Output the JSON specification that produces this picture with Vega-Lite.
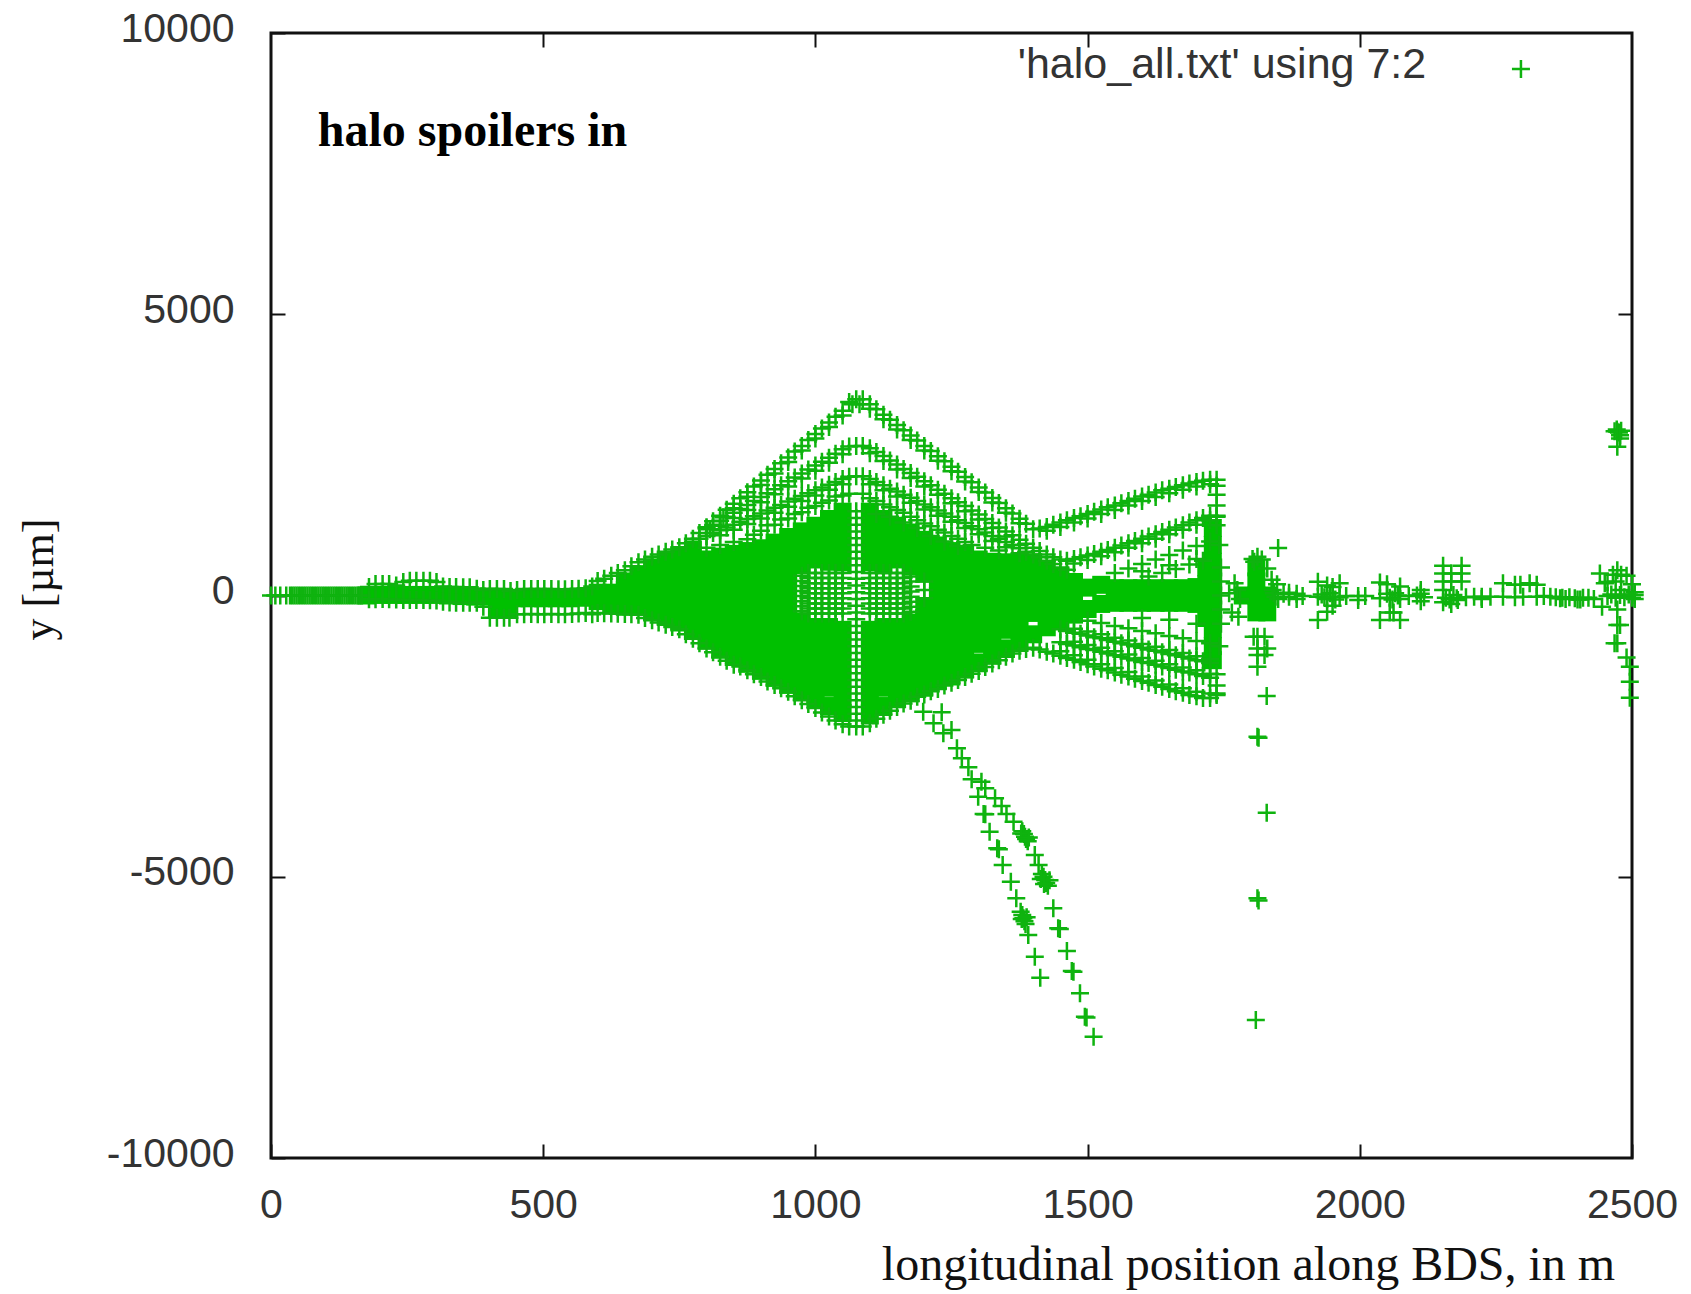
{"$schema":"https://vega.github.io/schema/vega-lite/v6.json","autosize":{"type":"none"},"padding":{"left":271,"top":33,"right":59,"bottom":136},"width":1361,"height":1125,"background":"white","view":{"stroke":"#111","strokeWidth":3,"fill":"white"},
"datasets":{
"labels":[{"s":86,"y":8247,"t":"halo spoilers in"}],
"key":[{"s":2122,"y":9431,"t":"'halo_all.txt' using 7:2"}],
"keypt":[{"s":2296,"y":9360}],
"core":[
{"s":600,"y":50},{"s":600,"y":-100},{"s":625,"y":50},{"s":625,"y":-150},{"s":650,"y":250},{"s":650,"y":100},{"s":650,"y":-200},{"s":675,"y":380},{"s":675,"y":200},{"s":675,"y":-100},{"s":675,"y":-200},{"s":700,"y":500},{"s":700,"y":300},{"s":700,"y":0},{"s":700,"y":-280},{"s":725,"y":600},{"s":725,"y":400},{"s":725,"y":100},{"s":725,"y":-200},{"s":725,"y":-360},{"s":750,"y":700},{"s":750,"y":500},{"s":750,"y":200},{"s":750,"y":-100},{"s":750,"y":-400},{"s":750,"y":-480},{"s":775,"y":820},{"s":775,"y":600},{"s":775,"y":300},{"s":775,"y":0},{"s":775,"y":-300},{"s":775,"y":-600},
{"s":800,"y":640},{"s":800,"y":340},{"s":800,"y":40},{"s":800,"y":-260},{"s":800,"y":-560},{"s":800,"y":-800},
{"s":825,"y":690},{"s":825,"y":390},{"s":825,"y":90},{"s":825,"y":-210},{"s":825,"y":-510},{"s":825,"y":-810},{"s":825,"y":-965},
{"s":850,"y":740},{"s":850,"y":440},{"s":850,"y":140},{"s":850,"y":-160},{"s":850,"y":-460},{"s":850,"y":-760},{"s":850,"y":-1060},
{"s":875,"y":790},{"s":875,"y":490},{"s":875,"y":190},{"s":875,"y":-110},{"s":875,"y":-410},{"s":875,"y":-710},{"s":875,"y":-1010},{"s":875,"y":-1215},
{"s":900,"y":840},{"s":900,"y":540},{"s":900,"y":240},{"s":900,"y":-60},{"s":900,"y":-360},{"s":900,"y":-660},{"s":900,"y":-960},{"s":900,"y":-1260},{"s":900,"y":-1340},
{"s":925,"y":940},{"s":925,"y":640},{"s":925,"y":340},{"s":925,"y":40},{"s":925,"y":-260},{"s":925,"y":-560},{"s":925,"y":-860},{"s":925,"y":-1160},{"s":925,"y":-1465},
{"s":950,"y":1040},{"s":950,"y":740},{"s":950,"y":440},{"s":950,"y":140},{"s":950,"y":-160},{"s":950,"y":-460},{"s":950,"y":-760},{"s":950,"y":-1060},{"s":950,"y":-1360},{"s":950,"y":-1590},
{"s":975,"y":1140},{"s":975,"y":840},{"s":975,"y":540},{"s":975,"y":-460},{"s":975,"y":-660},{"s":975,"y":-960},{"s":975,"y":-1260},{"s":975,"y":-1560},{"s":975,"y":-1715},
{"s":1000,"y":1240},{"s":1000,"y":940},{"s":1000,"y":640},{"s":1000,"y":-560},{"s":1000,"y":-860},{"s":1000,"y":-1160},{"s":1000,"y":-1460},{"s":1000,"y":-1760},{"s":1000,"y":-1840},
{"s":1025,"y":1360},{"s":1025,"y":1060},{"s":1025,"y":760},{"s":1025,"y":600},{"s":1025,"y":-560},{"s":1025,"y":-740},{"s":1025,"y":-1040},{"s":1025,"y":-1340},{"s":1025,"y":-1640},{"s":1025,"y":-1965},
{"s":1050,"y":1490},{"s":1050,"y":1190},{"s":1050,"y":890},{"s":1050,"y":590},{"s":1050,"y":-610},{"s":1050,"y":-910},{"s":1050,"y":-1210},{"s":1050,"y":-1510},{"s":1050,"y":-1810},{"s":1050,"y":-2090},
{"s":1100,"y":1490},{"s":1100,"y":1190},{"s":1100,"y":890},{"s":1100,"y":590},{"s":1100,"y":-610},{"s":1100,"y":-910},{"s":1100,"y":-1210},{"s":1100,"y":-1510},{"s":1100,"y":-1810},{"s":1100,"y":-2090},
{"s":1125,"y":1360},{"s":1125,"y":1060},{"s":1125,"y":760},{"s":1125,"y":560},{"s":1125,"y":-560},{"s":1125,"y":-740},{"s":1125,"y":-1040},{"s":1125,"y":-1340},{"s":1125,"y":-1640},{"s":1125,"y":-1965},
{"s":1150,"y":1240},{"s":1150,"y":940},{"s":1150,"y":640},{"s":1150,"y":-560},{"s":1150,"y":-860},{"s":1150,"y":-1160},{"s":1150,"y":-1460},{"s":1150,"y":-1760},{"s":1150,"y":-1840},
{"s":1175,"y":1120},{"s":1175,"y":820},{"s":1175,"y":520},{"s":1175,"y":-480},{"s":1175,"y":-780},{"s":1175,"y":-1080},{"s":1175,"y":-1380},{"s":1175,"y":-1680},{"s":1175,"y":-1740},
{"s":1200,"y":990},{"s":1200,"y":690},{"s":1200,"y":390},{"s":1200,"y":-210},{"s":1200,"y":-400},{"s":1200,"y":-610},{"s":1200,"y":-910},{"s":1200,"y":-1210},{"s":1200,"y":-1510},{"s":1200,"y":-1640},
{"s":1225,"y":890},{"s":1225,"y":590},{"s":1225,"y":290},{"s":1225,"y":-10},{"s":1225,"y":-310},{"s":1225,"y":-610},{"s":1225,"y":-910},{"s":1225,"y":-1210},{"s":1225,"y":-1510},
{"s":1250,"y":790},{"s":1250,"y":490},{"s":1250,"y":190},{"s":1250,"y":-110},{"s":1250,"y":-410},{"s":1250,"y":-710},{"s":1250,"y":-1010},{"s":1250,"y":-1310},{"s":1250,"y":-1440},
{"s":1275,"y":720},{"s":1275,"y":420},{"s":1275,"y":120},{"s":1275,"y":-180},{"s":1275,"y":-480},{"s":1275,"y":-780},{"s":1275,"y":-1080},{"s":1275,"y":-1315},
{"s":1300,"y":640},{"s":1300,"y":340},{"s":1300,"y":40},{"s":1300,"y":-260},{"s":1300,"y":-560},{"s":1300,"y":-860},{"s":1300,"y":-1190},
{"s":1325,"y":600},{"s":1325,"y":300},{"s":1325,"y":0},{"s":1325,"y":-300},{"s":1325,"y":-600},{"s":1325,"y":-900},{"s":1325,"y":-1065},
{"s":1350,"y":590},{"s":1350,"y":290},{"s":1350,"y":-10},{"s":1350,"y":-310},{"s":1350,"y":-610},{"s":1350,"y":-940},
{"s":1375,"y":590},{"s":1375,"y":290},{"s":1375,"y":-10},{"s":1375,"y":-310},{"s":1375,"y":-610},{"s":1375,"y":-815},
{"s":1400,"y":590},{"s":1400,"y":290},{"s":1400,"y":-10},{"s":1400,"y":-310},{"s":1400,"y":-690},
{"s":1425,"y":470},{"s":1425,"y":170},{"s":1425,"y":-130},{"s":1425,"y":-430},{"s":1425,"y":-565},
{"s":1450,"y":340},{"s":1450,"y":40},{"s":1450,"y":-260},{"s":1450,"y":-440},
{"s":1475,"y":240},{"s":1475,"y":-50},{"s":1475,"y":-340},{"s":1500,"y":140},{"s":1500,"y":-240},{"s":1525,"y":190},{"s":1525,"y":-150},{"s":1550,"y":130},{"s":1550,"y":-130},{"s":1575,"y":130},{"s":1575,"y":-130},{"s":1600,"y":130},{"s":1600,"y":-130},{"s":1625,"y":130},{"s":1625,"y":-130},{"s":1650,"y":130},{"s":1650,"y":-130},{"s":1675,"y":130},{"s":1675,"y":-130},{"s":1700,"y":150},{"s":1700,"y":-150},
{"s":1718,"y":500},{"s":1718,"y":200},{"s":1718,"y":-100},{"s":1718,"y":-400},
{"s":1730,"y":1200},{"s":1730,"y":900},{"s":1730,"y":600},{"s":1730,"y":300},{"s":1730,"y":0},{"s":1730,"y":-300},{"s":1730,"y":-600},{"s":1730,"y":-900},{"s":1730,"y":-1150},
{"s":175,"y":0},{"s":200,"y":10},{"s":225,"y":10},{"s":250,"y":10},{"s":275,"y":10},{"s":300,"y":10},{"s":325,"y":0},{"s":350,"y":-10},{"s":375,"y":-20},{"s":400,"y":-20},{"s":415,"y":-240},{"s":425,"y":-60},{"s":435,"y":-240},{"s":450,"y":-50},{"s":475,"y":-50},{"s":500,"y":-50},{"s":525,"y":-50},{"s":550,"y":-50},{"s":575,"y":-40},
{"s":1810,"y":500},{"s":1810,"y":250},{"s":1810,"y":0},{"s":1810,"y":-300},{"s":1830,"y":0},{"s":1830,"y":-300},{"s":1785,"y":0}
],
"pts":[
{"s":0,"y":0},{"s":8,"y":0},{"s":17,"y":0},{"s":28,"y":0},{"s":35,"y":0},{"s":39,"y":0},{"s":43,"y":0},{"s":47,"y":0},{"s":51,"y":0},{"s":55,"y":0},{"s":59,"y":0},{"s":63,"y":0},{"s":67,"y":0},{"s":71,"y":0},{"s":75,"y":0},{"s":79,"y":0},{"s":83,"y":0},{"s":87,"y":0},{"s":91,"y":0},{"s":95,"y":0},{"s":99,"y":0},{"s":103,"y":0},{"s":107,"y":0},{"s":111,"y":0},{"s":115,"y":0},{"s":119,"y":0},{"s":123,"y":0},{"s":127,"y":0},{"s":131,"y":0},{"s":135,"y":0},{"s":139,"y":0},{"s":143,"y":0},{"s":147,"y":0},{"s":151,"y":0},{"s":155,"y":0},{"s":159,"y":0},{"s":163,"y":0},{"s":167,"y":0},
{"s":180,"y":150},{"s":192,"y":205},{"s":205,"y":205},{"s":217,"y":205},{"s":230,"y":180},{"s":243,"y":240},{"s":255,"y":263},{"s":267,"y":263},{"s":280,"y":263},{"s":292,"y":263},{"s":304,"y":240},{"s":316,"y":160},{"s":328,"y":150},{"s":340,"y":150},{"s":353,"y":145},{"s":365,"y":145},{"s":378,"y":120},{"s":390,"y":100},{"s":402,"y":115},{"s":415,"y":115},{"s":428,"y":115},{"s":440,"y":80},{"s":452,"y":100},{"s":465,"y":115},{"s":478,"y":115},{"s":490,"y":115},{"s":502,"y":115},{"s":515,"y":115},{"s":528,"y":110},{"s":540,"y":110},{"s":553,"y":115},{"s":565,"y":120},{"s":578,"y":130},{"s":590,"y":160},
{"s":180,"y":-65},{"s":192,"y":-65},{"s":205,"y":-60},{"s":217,"y":-65},{"s":230,"y":-70},{"s":243,"y":-80},{"s":255,"y":-80},{"s":267,"y":-80},{"s":280,"y":-80},{"s":292,"y":-85},{"s":304,"y":-90},{"s":316,"y":-110},{"s":328,"y":-125},{"s":340,"y":-130},{"s":353,"y":-130},{"s":365,"y":-130},{"s":378,"y":-130},{"s":390,"y":-200},{"s":402,"y":-395},{"s":415,"y":-395},{"s":428,"y":-395},{"s":438,"y":-395},{"s":452,"y":-335},{"s":465,"y":-335},{"s":478,"y":-330},{"s":490,"y":-335},{"s":502,"y":-335},{"s":515,"y":-330},{"s":528,"y":-335},{"s":540,"y":-335},{"s":553,"y":-330},{"s":565,"y":-320},{"s":578,"y":-310},{"s":590,"y":-335},
{"s":600,"y":260},{"s":612,"y":300},{"s":625,"y":350},{"s":637,"y":400},{"s":650,"y":450},{"s":662,"y":520},{"s":675,"y":590},{"s":687,"y":640},{"s":700,"y":690},{"s":712,"y":730},{"s":725,"y":780},{"s":737,"y":820},{"s":750,"y":860},{"s":762,"y":930},
{"s":600,"y":-310},{"s":612,"y":-315},{"s":625,"y":-320},{"s":637,"y":-325},{"s":650,"y":-330},{"s":662,"y":-335},{"s":675,"y":-340},{"s":687,"y":-400},{"s":700,"y":-440},{"s":712,"y":-480},{"s":725,"y":-520},{"s":737,"y":-560},{"s":750,"y":-600},{"s":762,"y":-690},{"s":775,"y":-770},{"s":787,"y":-850},{"s":800,"y":-940},{"s":812,"y":-1010},{"s":825,"y":-1090},{"s":837,"y":-1160},{"s":850,"y":-1230},{"s":862,"y":-1260},{"s":875,"y":-1330},{"s":887,"y":-1400},{"s":900,"y":-1450},{"s":912,"y":-1530},{"s":925,"y":-1590},{"s":937,"y":-1650},{"s":950,"y":-1710},{"s":962,"y":-1790},{"s":975,"y":-1860},{"s":987,"y":-1930},{"s":1000,"y":-2000},{"s":1012,"y":-2080},{"s":1025,"y":-2150},{"s":1037,"y":-2220},{"s":1050,"y":-2290},{"s":1062,"y":-2330},{"s":1075,"y":-2330},{"s":1087,"y":-2330},{"s":1100,"y":-2270},{"s":1112,"y":-2190},{"s":1125,"y":-2120},{"s":1137,"y":-2050},{"s":1150,"y":-1980},{"s":1162,"y":-1920},{"s":1175,"y":-1870},{"s":1187,"y":-1800},{"s":1200,"y":-1760},{"s":1212,"y":-1700},{"s":1225,"y":-1660},{"s":1237,"y":-1600},{"s":1250,"y":-1550},{"s":1262,"y":-1500},{"s":1275,"y":-1450},{"s":1287,"y":-1390},{"s":1300,"y":-1340},{"s":1312,"y":-1270},{"s":1325,"y":-1210},{"s":1337,"y":-1150},{"s":1350,"y":-1090},{"s":1362,"y":-1030},{"s":1375,"y":-980},{"s":1387,"y":-950},{"s":1400,"y":-930},
{"s":775,"y":1010},{"s":787,"y":1110},{"s":800,"y":1215},{"s":812,"y":1320},{"s":825,"y":1420},{"s":837,"y":1525},{"s":850,"y":1630},{"s":862,"y":1730},{"s":875,"y":1835},{"s":887,"y":1940},{"s":900,"y":2045},{"s":912,"y":2145},{"s":925,"y":2250},{"s":937,"y":2350},{"s":950,"y":2455},{"s":962,"y":2560},{"s":975,"y":2660},{"s":987,"y":2765},{"s":1000,"y":2870},{"s":1012,"y":2970},{"s":1025,"y":3075},{"s":1037,"y":3180},{"s":1050,"y":3285},{"s":1062,"y":3440},{"s":1075,"y":3490},{"s":1087,"y":3490},{"s":1100,"y":3400},{"s":1112,"y":3310},{"s":1125,"y":3215},{"s":1137,"y":3125},{"s":1150,"y":3030},{"s":1162,"y":2940},{"s":1175,"y":2845},{"s":1187,"y":2755},{"s":1200,"y":2660},{"s":1212,"y":2570},{"s":1225,"y":2475},{"s":1237,"y":2385},{"s":1250,"y":2290},{"s":1262,"y":2200},{"s":1275,"y":2105},{"s":1287,"y":2015},{"s":1300,"y":1920},{"s":1312,"y":1830},{"s":1325,"y":1735},{"s":1337,"y":1645},{"s":1350,"y":1550},{"s":1362,"y":1460},{"s":1375,"y":1365},{"s":1387,"y":1275},{"s":1400,"y":1180},
{"s":806,"y":1180},{"s":831,"y":1390},{"s":850,"y":1550},{"s":875,"y":1755},{"s":900,"y":1965},{"s":925,"y":2170},{"s":950,"y":2375},{"s":975,"y":2580},{"s":1000,"y":2790},{"s":1025,"y":2995},{"s":1050,"y":3200},{"s":1068,"y":3400},{"s":1081,"y":3400},{"s":1100,"y":3320},{"s":1125,"y":3135},{"s":1150,"y":2950},{"s":1175,"y":2765},{"s":1200,"y":2580},{"s":1225,"y":2395},{"s":1250,"y":2210},{"s":1275,"y":2025},{"s":1300,"y":1840},{"s":1325,"y":1655},{"s":1350,"y":1470},{"s":1375,"y":1285},
{"s":800,"y":1190},{"s":812,"y":1260},{"s":825,"y":1330},{"s":837,"y":1400},{"s":850,"y":1470},{"s":862,"y":1540},{"s":875,"y":1610},{"s":887,"y":1680},{"s":900,"y":1750},{"s":912,"y":1820},{"s":925,"y":1890},{"s":937,"y":1960},{"s":950,"y":2030},{"s":962,"y":2100},{"s":975,"y":2170},{"s":987,"y":2240},{"s":1000,"y":2310},{"s":1012,"y":2380},{"s":1025,"y":2450},{"s":1037,"y":2520},{"s":1050,"y":2600},{"s":1062,"y":2650},{"s":1075,"y":2660},{"s":1087,"y":2660},{"s":1100,"y":2620},{"s":1112,"y":2550},{"s":1125,"y":2480},{"s":1137,"y":2400},{"s":1150,"y":2330},{"s":1162,"y":2250},{"s":1175,"y":2180},{"s":1187,"y":2110},{"s":1200,"y":2030},{"s":1212,"y":1960},{"s":1225,"y":1880},{"s":1237,"y":1810},{"s":1250,"y":1730},{"s":1262,"y":1660},{"s":1275,"y":1590},{"s":1287,"y":1510},{"s":1300,"y":1440},{"s":1312,"y":1360},{"s":1325,"y":1290},{"s":1337,"y":1210},{"s":1350,"y":1140},{"s":1362,"y":1070},{"s":1375,"y":990},{"s":1387,"y":920},{"s":1400,"y":850},{"s":1412,"y":790},{"s":1425,"y":730},{"s":1437,"y":680},{"s":1450,"y":640},
{"s":825,"y":1240},{"s":850,"y":1380},{"s":875,"y":1520},{"s":900,"y":1660},{"s":925,"y":1800},{"s":950,"y":1940},{"s":975,"y":2080},{"s":1000,"y":2220},{"s":1025,"y":2360},{"s":1050,"y":2510},{"s":1100,"y":2530},{"s":1125,"y":2390},{"s":1150,"y":2240},{"s":1175,"y":2090},{"s":1200,"y":1940},{"s":1225,"y":1790},{"s":1250,"y":1640},{"s":1275,"y":1500},{"s":1300,"y":1350},{"s":1325,"y":1200},{"s":1350,"y":1050},{"s":1375,"y":900},
{"s":787,"y":1010},{"s":800,"y":1060},{"s":812,"y":1110},{"s":825,"y":1160},{"s":837,"y":1210},{"s":850,"y":1260},{"s":862,"y":1310},{"s":875,"y":1360},{"s":887,"y":1410},{"s":900,"y":1460},{"s":912,"y":1510},{"s":925,"y":1560},{"s":937,"y":1610},{"s":950,"y":1670},{"s":962,"y":1720},{"s":975,"y":1770},{"s":987,"y":1820},{"s":1000,"y":1870},{"s":1012,"y":1920},{"s":1025,"y":1970},{"s":1037,"y":2020},{"s":1050,"y":2070},{"s":1062,"y":2110},{"s":1075,"y":2120},{"s":1087,"y":2120},{"s":1100,"y":2070},{"s":1112,"y":2020},{"s":1125,"y":1960},{"s":1137,"y":1900},{"s":1150,"y":1850},{"s":1162,"y":1790},{"s":1175,"y":1740},{"s":1187,"y":1680},{"s":1200,"y":1620},{"s":1212,"y":1570},{"s":1225,"y":1510},{"s":1237,"y":1460},{"s":1250,"y":1400},{"s":1262,"y":1340},{"s":1275,"y":1290},{"s":1287,"y":1230},{"s":1300,"y":1180},{"s":1312,"y":1120},{"s":1325,"y":1060},{"s":1337,"y":1010},{"s":1350,"y":950},{"s":1362,"y":900},{"s":1375,"y":840},{"s":1387,"y":780},{"s":1400,"y":730},{"s":1412,"y":680},{"s":1425,"y":620},{"s":1437,"y":560},{"s":1450,"y":500},{"s":1462,"y":460},
{"s":825,"y":1070},{"s":850,"y":1170},{"s":875,"y":1270},{"s":900,"y":1370},{"s":925,"y":1470},{"s":950,"y":1580},{"s":975,"y":1680},{"s":1000,"y":1780},{"s":1025,"y":1880},{"s":1050,"y":1980},{"s":1100,"y":1980},{"s":1125,"y":1870},{"s":1150,"y":1760},{"s":1175,"y":1650},{"s":1200,"y":1530},{"s":1225,"y":1420},{"s":1250,"y":1310},{"s":1275,"y":1200},{"s":1300,"y":1090},{"s":1325,"y":970},{"s":1350,"y":860},{"s":1375,"y":750},
{"s":900,"y":1150},{"s":925,"y":1260},{"s":950,"y":1370},{"s":975,"y":1480},{"s":1000,"y":1590},{"s":1025,"y":1690},{"s":1050,"y":1780},{"s":1062,"y":1810},{"s":1087,"y":1810},{"s":1100,"y":1730},{"s":1125,"y":1620},{"s":1150,"y":1520},{"s":1175,"y":1400},{"s":1200,"y":1280},{"s":1225,"y":1170},{"s":1250,"y":1060},{"s":1275,"y":950},
{"s":800,"y":850},{"s":825,"y":900},{"s":850,"y":950},{"s":875,"y":1000},{"s":887,"y":1080},{"s":912,"y":1250},{"s":937,"y":1350},{"s":962,"y":1450},{"s":987,"y":1560},{"s":1012,"y":1650},{"s":1037,"y":1760},{"s":1112,"y":1680},{"s":1137,"y":1570},{"s":1162,"y":1470},{"s":1187,"y":1340},{"s":1212,"y":1230},{"s":1237,"y":1120},{"s":1262,"y":1010},{"s":1287,"y":900},{"s":1312,"y":850},{"s":1337,"y":800},
{"s":1112,"y":1450},{"s":1137,"y":1400},{"s":1162,"y":1300},{"s":1187,"y":1200},{"s":1212,"y":1060},{"s":1237,"y":960},{"s":1262,"y":880},
{"s":1075,"y":1500},{"s":1075,"y":1380},{"s":1075,"y":1260},{"s":1075,"y":1140},{"s":1075,"y":1020},{"s":1075,"y":900},{"s":1075,"y":780},{"s":1075,"y":660},{"s":1075,"y":540},{"s":1075,"y":420},{"s":1075,"y":300},{"s":1075,"y":180},{"s":1075,"y":60},{"s":1075,"y":-60},{"s":1075,"y":-180},{"s":1075,"y":-300},{"s":1075,"y":-420},{"s":1075,"y":-540},{"s":1075,"y":-660},{"s":1075,"y":-780},{"s":1075,"y":-900},{"s":1075,"y":-1020},{"s":1075,"y":-1140},{"s":1075,"y":-1260},{"s":1075,"y":-1380},{"s":1075,"y":-1500},{"s":1075,"y":-1620},{"s":1075,"y":-1740},{"s":1075,"y":-1860},{"s":1075,"y":-1980},{"s":1075,"y":-2100},{"s":1075,"y":-2220},
{"s":975,"y":350},{"s":975,"y":260},{"s":975,"y":170},{"s":975,"y":80},{"s":975,"y":-10},{"s":975,"y":-100},{"s":975,"y":-190},{"s":975,"y":-280},
{"s":987,"y":400},{"s":987,"y":310},{"s":987,"y":220},{"s":987,"y":130},{"s":987,"y":40},{"s":987,"y":-50},{"s":987,"y":-140},{"s":987,"y":-230},{"s":987,"y":-320},
{"s":1000,"y":400},{"s":1000,"y":310},{"s":1000,"y":220},{"s":1000,"y":130},{"s":1000,"y":40},{"s":1000,"y":-50},{"s":1000,"y":-140},{"s":1000,"y":-230},{"s":1000,"y":-320},
{"s":1012,"y":400},{"s":1012,"y":310},{"s":1012,"y":220},{"s":1012,"y":130},{"s":1012,"y":40},{"s":1012,"y":-50},{"s":1012,"y":-140},{"s":1012,"y":-230},{"s":1012,"y":-320},
{"s":1025,"y":400},{"s":1025,"y":310},{"s":1025,"y":220},{"s":1025,"y":130},{"s":1025,"y":40},{"s":1025,"y":-50},{"s":1025,"y":-140},{"s":1025,"y":-230},{"s":1025,"y":-320},
{"s":1037,"y":400},{"s":1037,"y":310},{"s":1037,"y":220},{"s":1037,"y":130},{"s":1037,"y":40},{"s":1037,"y":-50},{"s":1037,"y":-140},{"s":1037,"y":-230},{"s":1037,"y":-320},
{"s":1050,"y":400},{"s":1050,"y":310},{"s":1050,"y":220},{"s":1050,"y":130},{"s":1050,"y":40},{"s":1050,"y":-50},{"s":1050,"y":-140},{"s":1050,"y":-230},{"s":1050,"y":-320},
{"s":1100,"y":400},{"s":1100,"y":310},{"s":1100,"y":220},{"s":1100,"y":130},{"s":1100,"y":40},{"s":1100,"y":-50},{"s":1100,"y":-140},{"s":1100,"y":-230},{"s":1100,"y":-320},
{"s":1112,"y":400},{"s":1112,"y":310},{"s":1112,"y":220},{"s":1112,"y":130},{"s":1112,"y":40},{"s":1112,"y":-50},{"s":1112,"y":-140},{"s":1112,"y":-230},{"s":1112,"y":-320},
{"s":1125,"y":400},{"s":1125,"y":310},{"s":1125,"y":220},{"s":1125,"y":130},{"s":1125,"y":40},{"s":1125,"y":-50},{"s":1125,"y":-140},{"s":1125,"y":-230},{"s":1125,"y":-320},
{"s":1137,"y":400},{"s":1137,"y":310},{"s":1137,"y":220},{"s":1137,"y":130},{"s":1137,"y":40},{"s":1137,"y":-50},{"s":1137,"y":-140},{"s":1137,"y":-230},{"s":1137,"y":-320},
{"s":1150,"y":400},{"s":1150,"y":310},{"s":1150,"y":220},{"s":1150,"y":130},{"s":1150,"y":40},{"s":1150,"y":-50},{"s":1150,"y":-140},{"s":1150,"y":-230},{"s":1150,"y":-320},
{"s":1162,"y":400},{"s":1162,"y":310},{"s":1162,"y":220},{"s":1162,"y":130},{"s":1162,"y":40},{"s":1162,"y":-50},{"s":1162,"y":-140},{"s":1162,"y":-230},{"s":1162,"y":-320},
{"s":1175,"y":340},{"s":1175,"y":250},{"s":1175,"y":160},{"s":1175,"y":70},{"s":1175,"y":-20},{"s":1175,"y":-110},{"s":1175,"y":-200},{"s":1175,"y":-290},
{"s":1200,"y":250},{"s":1200,"y":100},{"s":1200,"y":-50},
{"s":1412,"y":1190},{"s":1425,"y":1220},{"s":1437,"y":1260},{"s":1450,"y":1300},{"s":1462,"y":1340},{"s":1475,"y":1380},{"s":1487,"y":1410},{"s":1500,"y":1450},{"s":1512,"y":1490},{"s":1525,"y":1530},{"s":1537,"y":1570},{"s":1550,"y":1600},{"s":1562,"y":1640},{"s":1575,"y":1680},{"s":1587,"y":1720},{"s":1600,"y":1760},{"s":1612,"y":1790},{"s":1625,"y":1830},{"s":1637,"y":1870},{"s":1650,"y":1900},{"s":1662,"y":1930},{"s":1675,"y":1960},{"s":1687,"y":1990},{"s":1700,"y":2020},{"s":1712,"y":2040},{"s":1725,"y":2060},{"s":1737,"y":2060},
{"s":1425,"y":1150},{"s":1450,"y":1220},{"s":1475,"y":1300},{"s":1500,"y":1370},{"s":1525,"y":1450},{"s":1550,"y":1520},{"s":1575,"y":1600},{"s":1600,"y":1680},{"s":1625,"y":1750},{"s":1650,"y":1820},{"s":1675,"y":1880},{"s":1700,"y":1940},{"s":1725,"y":1980},
{"s":1462,"y":620},{"s":1475,"y":650},{"s":1487,"y":680},{"s":1500,"y":710},{"s":1512,"y":740},{"s":1525,"y":780},{"s":1537,"y":810},{"s":1550,"y":850},{"s":1562,"y":890},{"s":1575,"y":930},{"s":1587,"y":970},{"s":1600,"y":1010},{"s":1612,"y":1050},{"s":1625,"y":1090},{"s":1637,"y":1130},{"s":1650,"y":1170},{"s":1662,"y":1210},{"s":1675,"y":1250},{"s":1687,"y":1300},{"s":1700,"y":1340},{"s":1712,"y":1380},{"s":1725,"y":1420},{"s":1737,"y":1400},
{"s":1475,"y":570},{"s":1500,"y":630},{"s":1525,"y":700},{"s":1550,"y":770},{"s":1575,"y":850},{"s":1600,"y":930},{"s":1625,"y":1010},{"s":1650,"y":1090},{"s":1675,"y":1170},{"s":1700,"y":1260},{"s":1725,"y":1340},
{"s":1550,"y":400},{"s":1575,"y":480},{"s":1600,"y":560},{"s":1625,"y":640},{"s":1650,"y":720},{"s":1675,"y":800},{"s":1700,"y":880},{"s":1725,"y":960},{"s":1600,"y":430},{"s":1650,"y":540},{"s":1700,"y":650},{"s":1612,"y":340},{"s":1637,"y":400},{"s":1662,"y":470},{"s":1687,"y":550},{"s":1712,"y":620},{"s":1600,"y":-400},{"s":1650,"y":-430},{"s":1700,"y":-500},
{"s":1412,"y":-960},{"s":1425,"y":-1000},{"s":1437,"y":-1030},{"s":1450,"y":-1070},{"s":1462,"y":-1110},{"s":1475,"y":-1140},{"s":1487,"y":-1180},{"s":1500,"y":-1220},{"s":1512,"y":-1260},{"s":1525,"y":-1300},{"s":1537,"y":-1330},{"s":1550,"y":-1370},{"s":1562,"y":-1410},{"s":1575,"y":-1440},{"s":1587,"y":-1480},{"s":1600,"y":-1520},{"s":1612,"y":-1550},{"s":1625,"y":-1590},{"s":1637,"y":-1620},{"s":1650,"y":-1660},{"s":1662,"y":-1700},{"s":1675,"y":-1730},{"s":1687,"y":-1770},{"s":1700,"y":-1790},{"s":1712,"y":-1820},{"s":1725,"y":-1820},{"s":1737,"y":-1770},
{"s":1450,"y":-990},{"s":1475,"y":-1060},{"s":1500,"y":-1140},{"s":1525,"y":-1220},{"s":1550,"y":-1290},{"s":1575,"y":-1360},{"s":1600,"y":-1440},{"s":1625,"y":-1510},{"s":1650,"y":-1580},{"s":1675,"y":-1650},{"s":1700,"y":-1710},{"s":1725,"y":-1740},
{"s":1450,"y":-830},{"s":1462,"y":-860},{"s":1475,"y":-890},{"s":1487,"y":-920},{"s":1500,"y":-950},{"s":1512,"y":-970},{"s":1525,"y":-1000},{"s":1537,"y":-1030},{"s":1550,"y":-1060},{"s":1562,"y":-1090},{"s":1575,"y":-1120},{"s":1587,"y":-1150},{"s":1600,"y":-1180},{"s":1612,"y":-1200},{"s":1625,"y":-1230},{"s":1637,"y":-1260},{"s":1650,"y":-1290},{"s":1662,"y":-1320},{"s":1675,"y":-1350},{"s":1687,"y":-1370},{"s":1700,"y":-1400},{"s":1712,"y":-1430},{"s":1725,"y":-1460},
{"s":1475,"y":-820},{"s":1500,"y":-880},{"s":1525,"y":-930},{"s":1550,"y":-990},{"s":1575,"y":-1050},{"s":1600,"y":-1110},{"s":1625,"y":-1160},{"s":1650,"y":-1220},{"s":1675,"y":-1280},{"s":1700,"y":-1330},{"s":1725,"y":-1390},
{"s":1450,"y":-600},{"s":1462,"y":-630},{"s":1475,"y":-660},{"s":1487,"y":-680},{"s":1500,"y":-710},{"s":1512,"y":-740},{"s":1525,"y":-760},{"s":1537,"y":-790},{"s":1550,"y":-820},{"s":1562,"y":-850},{"s":1575,"y":-870},{"s":1587,"y":-900},{"s":1600,"y":-930},{"s":1612,"y":-960},{"s":1625,"y":-980},{"s":1637,"y":-1010},{"s":1650,"y":-1040},{"s":1662,"y":-1060},{"s":1675,"y":-1090},{"s":1687,"y":-1120},{"s":1700,"y":-1150},{"s":1712,"y":-1170},{"s":1725,"y":-1200},
{"s":1475,"y":-590},{"s":1500,"y":-640},{"s":1525,"y":-690},{"s":1550,"y":-750},{"s":1575,"y":-800},{"s":1600,"y":-860},{"s":1625,"y":-910},{"s":1650,"y":-970},{"s":1675,"y":-1020},{"s":1700,"y":-1080},{"s":1725,"y":-1130},
{"s":1500,"y":-450},{"s":1525,"y":-490},{"s":1550,"y":-540},{"s":1575,"y":-580},{"s":1600,"y":-630},{"s":1625,"y":-670},{"s":1650,"y":-720},{"s":1675,"y":-760},{"s":1700,"y":-810},{"s":1725,"y":-850},
{"s":1737,"y":1950},{"s":1737,"y":1790},{"s":1737,"y":1600},{"s":1737,"y":1420},{"s":1737,"y":1250},{"s":1742,"y":900},{"s":1745,"y":500},{"s":1745,"y":250},{"s":1745,"y":0},{"s":1745,"y":-250},{"s":1745,"y":-500},{"s":1742,"y":-900},{"s":1737,"y":-1400},{"s":1737,"y":-1600},{"s":1737,"y":-1740},
{"s":1760,"y":40},{"s":1770,"y":216},{"s":1775,"y":100},{"s":1777,"y":-377},{"s":1765,"y":-300},{"s":1780,"y":-60},
{"s":1803,"y":650},{"s":1812,"y":690},{"s":1820,"y":640},{"s":1806,"y":600},{"s":1830,"y":480},{"s":1838,"y":280},{"s":1850,"y":845},{"s":1840,"y":100},{"s":1848,"y":200},{"s":1845,"y":-20},{"s":1850,"y":-60},{"s":1842,"y":40},
{"s":1805,"y":-732},{"s":1812,"y":-732},{"s":1825,"y":-732},{"s":1812,"y":-940},{"s":1830,"y":-940},{"s":1812,"y":-1058},{"s":1825,"y":-1058},{"s":1812,"y":-1266},
{"s":1829,"y":-1786},{"s":1812,"y":-2509},{"s":1814,"y":-2530},{"s":1829,"y":-3860},{"s":1812,"y":-5384},{"s":1814,"y":-5420},{"s":1809,"y":-7547},
{"s":1860,"y":30},{"s":1870,"y":50},{"s":1870,"y":-20},{"s":1884,"y":30},{"s":1884,"y":-60},{"s":1895,"y":-10},
{"s":1923,"y":245},{"s":1923,"y":-436},{"s":1923,"y":-20},{"s":1930,"y":20},{"s":1935,"y":-30},{"s":1940,"y":-60},{"s":1945,"y":40},{"s":1950,"y":-20},{"s":1955,"y":-70},{"s":1940,"y":-288},{"s":1940,"y":180},{"s":1950,"y":-180},{"s":1950,"y":150},{"s":1963,"y":216},{"s":1963,"y":-30},{"s":1975,"y":-10},
{"s":1997,"y":-10},{"s":1997,"y":-80},{"s":2010,"y":-10},
{"s":2037,"y":230},{"s":2037,"y":-436},{"s":2037,"y":-50},{"s":2050,"y":30},{"s":2050,"y":200},{"s":2055,"y":-40},{"s":2060,"y":-70},{"s":2065,"y":40},{"s":2070,"y":0},{"s":2055,"y":-300},{"s":2062,"y":-300},{"s":2074,"y":-436},{"s":2074,"y":160},{"s":2074,"y":-60},{"s":2090,"y":-10},
{"s":2112,"y":100},{"s":2112,"y":-100},{"s":2105,"y":0},{"s":2112,"y":30},{"s":2118,"y":-30},
{"s":2153,"y":530},{"s":2187,"y":530},{"s":2153,"y":390},{"s":2168,"y":390},{"s":2187,"y":390},{"s":2153,"y":250},{"s":2168,"y":250},{"s":2187,"y":250},{"s":2153,"y":100},{"s":2153,"y":-120},{"s":2168,"y":-150},{"s":2180,"y":-80},{"s":2158,"y":-40},{"s":2165,"y":-70},{"s":2172,"y":10},{"s":2178,"y":-50},{"s":2195,"y":-30},{"s":2210,"y":-20},
{"s":2224,"y":-20},{"s":2224,"y":-60},{"s":2240,"y":-20},
{"s":2263,"y":220},{"s":2263,"y":-20},{"s":2285,"y":190},{"s":2285,"y":-30},{"s":2295,"y":190},{"s":2300,"y":-20},{"s":2312,"y":220},{"s":2325,"y":190},{"s":2325,"y":-20},{"s":2338,"y":-10},{"s":2350,"y":-20},
{"s":2360,"y":-30},{"s":2368,"y":-50},{"s":2378,"y":-60},{"s":2385,"y":-30},{"s":2395,"y":-50},{"s":2405,"y":-70},{"s":2420,"y":-40},{"s":2430,"y":-60},{"s":2372,"y":-40},{"s":2400,"y":-70},{"s":2410,"y":-40},
{"s":2441,"y":390},{"s":2450,"y":220},{"s":2445,"y":-200},{"s":2455,"y":240},{"s":2465,"y":370},{"s":2473,"y":450},{"s":2480,"y":370},{"s":2490,"y":350},{"s":2500,"y":200},{"s":2505,"y":60},{"s":2505,"y":-60},{"s":2470,"y":250},{"s":2480,"y":100},{"s":2455,"y":-10},{"s":2462,"y":20},{"s":2470,"y":-40},{"s":2478,"y":10},{"s":2486,"y":-30},{"s":2494,"y":20},{"s":2500,"y":-40},{"s":2505,"y":10},
{"s":2473,"y":-525},{"s":2473,"y":-850},{"s":2478,"y":-525},{"s":2468,"y":-850},{"s":2473,"y":-250},{"s":2496,"y":-1266},{"s":2496,"y":-1532},{"s":2496,"y":-1817},{"s":2490,"y":-1100},
{"s":2468,"y":2920},{"s":2472,"y":2950},{"s":2476,"y":2900},{"s":2480,"y":2930},{"s":2473,"y":2912},{"s":2478,"y":2850},{"s":2478,"y":2790},{"s":2473,"y":2645},
{"s":1198,"y":-2065},{"s":1232,"y":-2077},{"s":1217,"y":-2272},{"s":1235,"y":-2450},{"s":1250,"y":-2391},{"s":1260,"y":-2717},{"s":1269,"y":-2895},{"s":1281,"y":-3055},{"s":1287,"y":-3268},{"s":1305,"y":-3309},{"s":1312,"y":-3428},{"s":1299,"y":-3576},{"s":1330,"y":-3606},{"s":1342,"y":-3742},{"s":1309,"y":-3884},{"s":1312,"y":-3890},{"s":1351,"y":-3884},{"s":1364,"y":-4021},{"s":1320,"y":-4198},{"s":1334,"y":-4495},{"s":1337,"y":-4510},{"s":1344,"y":-4791},{"s":1359,"y":-5087},{"s":1369,"y":-5383},
{"s":1377,"y":-5620},{"s":1380,"y":-5680},{"s":1382,"y":-5739},{"s":1384,"y":-5790},{"s":1386,"y":-5840},{"s":1379,"y":-5750},{"s":1388,"y":-5720},{"s":1391,"y":-6035},{"s":1403,"y":-6421},{"s":1413,"y":-6794},
{"s":1380,"y":-4190},{"s":1383,"y":-4240},{"s":1385,"y":-4287},{"s":1387,"y":-4330},{"s":1390,"y":-4370},{"s":1378,"y":-4230},{"s":1392,"y":-4300},{"s":1403,"y":-4613},{"s":1410,"y":-4791},
{"s":1416,"y":-4950},{"s":1419,"y":-5000},{"s":1422,"y":-5058},{"s":1424,"y":-5110},{"s":1427,"y":-5160},{"s":1414,"y":-5040},{"s":1430,"y":-5060},{"s":1420,"y":-5130},
{"s":1437,"y":-5561},{"s":1446,"y":-5917},{"s":1449,"y":-5930},{"s":1462,"y":-6320},{"s":1471,"y":-6675},{"s":1474,"y":-6690},{"s":1486,"y":-7072},{"s":1495,"y":-7487},{"s":1498,"y":-7500},{"s":1511,"y":-7843}
]},
"layer":[
{"data":{"name":"core"},"mark":{"type":"point","shape":"square","filled":true,"size":324,"color":"#00c000","opacity":1,"strokeWidth":0},
"encoding":{"x":{"field":"s","type":"quantitative","scale":{"domain":[0,2500],"nice":false,"zero":false},"axis":{"orient":"bottom","values":[0,500,1000,1500,2000,2500],"labelFlush":false,"labelOverlap":false,"labelExpr":"''+datum.value","grid":false,"domain":false,"tickSize":-14,"tickColor":"#111","tickWidth":2,"labelFont":"Liberation Sans","labelFontSize":41,"labelColor":"#333","labelPadding":41,"title":"longitudinal position along BDS, in m","titleFont":"Liberation Serif","titleFontWeight":"normal","titleFontSize":48,"titleColor":"#111","titleX":977,"titleY":107,"titleAlign":"center","titleBaseline":"middle"}},
"y":{"field":"y","type":"quantitative","scale":{"domain":[-10000,10000],"nice":false,"zero":false},"axis":{"orient":"left","values":[-10000,-5000,0,5000,10000],"labelFlush":false,"labelOverlap":false,"labelExpr":"''+datum.value","labelOffset":-4,"grid":false,"domain":false,"tickSize":-14,"tickColor":"#111","tickWidth":2,"labelFont":"Liberation Sans","labelFontSize":41,"labelColor":"#333","labelPadding":51,"title":"y  [µm]","titleFont":"Liberation Serif","titleFontWeight":"normal","titleFontSize":44,"titleColor":"#111","titleAngle":270,"titleX":-232,"titleY":546,"titleAlign":"center","titleBaseline":"middle"}}}},
{"data":{"name":"pts"},"mark":{"type":"point","shape":"M-1,0H1M0,-1V1","filled":false,"size":324,"strokeWidth":2.5,"stroke":"#0fb30f","opacity":1},
"encoding":{"x":{"field":"s","type":"quantitative","axis":{"orient":"top","values":[500,1000,1500,2000],"grid":false,"domain":false,"labels":false,"title":null,"tickSize":-14,"tickColor":"#111","tickWidth":2}},
"y":{"field":"y","type":"quantitative","axis":{"orient":"right","values":[-5000,0,5000],"grid":false,"domain":false,"labels":false,"title":null,"tickSize":-14,"tickColor":"#111","tickWidth":2}}}},
{"data":{"name":"keypt"},"mark":{"type":"point","shape":"M-1,0H1M0,-1V1","filled":false,"size":324,"strokeWidth":2.5,"stroke":"#0fb30f","opacity":1},
"encoding":{"x":{"field":"s","type":"quantitative","axis":null},"y":{"field":"y","type":"quantitative","axis":null}}},
{"data":{"name":"labels"},"mark":{"type":"text","align":"left","baseline":"middle","font":"Liberation Serif","fontWeight":"bold","fontSize":48,"color":"#000"},
"encoding":{"x":{"field":"s","type":"quantitative","axis":null},"y":{"field":"y","type":"quantitative","axis":null},"text":{"field":"t"}}},
{"data":{"name":"key"},"mark":{"type":"text","align":"right","baseline":"middle","font":"Liberation Sans","fontSize":43,"color":"#333"},
"encoding":{"x":{"field":"s","type":"quantitative","axis":null},"y":{"field":"y","type":"quantitative","axis":null},"text":{"field":"t"}}}
],
"resolve":{"axis":{"x":"independent","y":"independent"}}}
